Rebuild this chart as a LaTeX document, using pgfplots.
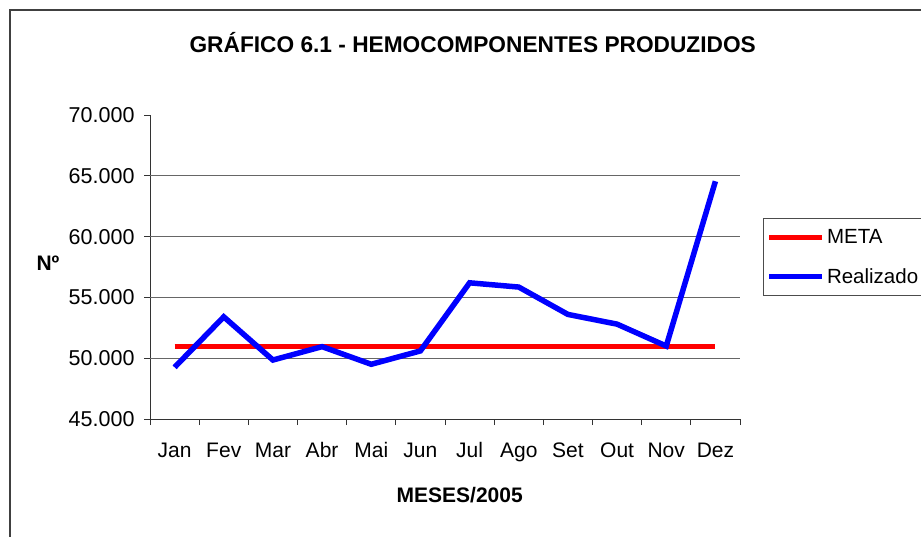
\documentclass[border=0pt]{standalone}
\usepackage{pgfplots}
\pgfplotsset{compat=1.18}
\usepackage{fontspec}
\setmainfont{Liberation Sans}
\begin{document}
\begin{tikzpicture}[x=1pt,y=1pt]
\useasboundingbox (0,0) rectangle (921,536);
\draw[line width=2pt, color=black!75] (10,-5) -- (10,526) -- (930,526);
\begin{axis}[
  at={(150pt,117pt)}, anchor=south west,
  scale only axis, width=590pt, height=304pt,
  xmin=-0.5, xmax=11.5, ymin=45000, ymax=70000,
  axis x line*=bottom, axis y line*=left,
  axis line style={black!80, line width=1pt, -},
  tick align=outside,
  xtick={0,...,11},
  xticklabels={Jan,Fev,Mar,Abr,Mai,Jun,Jul,Ago,Set,Out,Nov,Dez},
  major x tick style={draw=none},
  minor xtick={-0.5,0.5,...,11.5},
  minor tick length=6pt,
  minor x tick style={black!80, line width=1pt},
  ytick={45000,50000,...,70000},
  major tick length=6pt,
  y tick style={black!80, line width=1pt},
  extra y ticks={50000,55000,60000,65000},
  extra y tick labels={},
  extra y tick style={grid=major, major tick length=0pt, major grid style={black!60, line width=0.9pt}},
  scaled y ticks=false,
  ticklabel style={font=\fontsize{21}{25}\selectfont},
  yticklabel style={font=\fontsize{21.5}{25}\selectfont, xshift=-6pt, /pgf/number format/.cd, fixed, precision=0, 1000 sep={.}, assume math mode=true},
  xticklabel style={anchor=base, yshift=-32pt},
  title={GRÁFICO 6.1 - HEMOCOMPONENTES PRODUZIDOS},
  title style={at={(axis description cs:0.547,1.217)}, anchor=center, font=\fontsize{22.7}{26}\selectfont\bfseries},
  xlabel={MESES/2005},
  xlabel style={at={(axis description cs:0.525,-0.25)}, anchor=center, font=\fontsize{21}{25}\selectfont\bfseries},
  ylabel={Nº},
  ylabel style={at={(axis description cs:-0.173,0.513)}, anchor=center, rotate=-90, font=\fontsize{21}{25}\selectfont\bfseries},
  legend style={at={(1.039,0.661)}, anchor=north west, draw=black!70, line width=1pt,
    font=\fontsize{20.5}{24}\selectfont, inner xsep=3pt, inner ysep=9pt, row sep=19pt,
    /tikz/every even column/.append style={column sep=0pt}},
  legend cell align=left,
  legend image code/.code={\draw[#1] (0pt,0pt) -- (53pt,0pt);},
  clip=false,
]
\addplot[red, line width=5pt] coordinates {
 (0,51000) (1,51000) (2,51000) (3,51000) (4,51000) (5,51000)
 (6,51000) (7,51000) (8,51000) (9,51000) (10,51000) (11,51000)};
\addlegendentry{META}
\addplot[blue, line width=5.5pt] coordinates {
 (0,49250) (1,53400) (2,49850) (3,50950) (4,49500) (5,50600)
 (6,56200) (7,55850) (8,53600) (9,52800) (10,51000) (11,64550)};
\addlegendentry{Realizado}
\end{axis}
\end{tikzpicture}
\end{document}
